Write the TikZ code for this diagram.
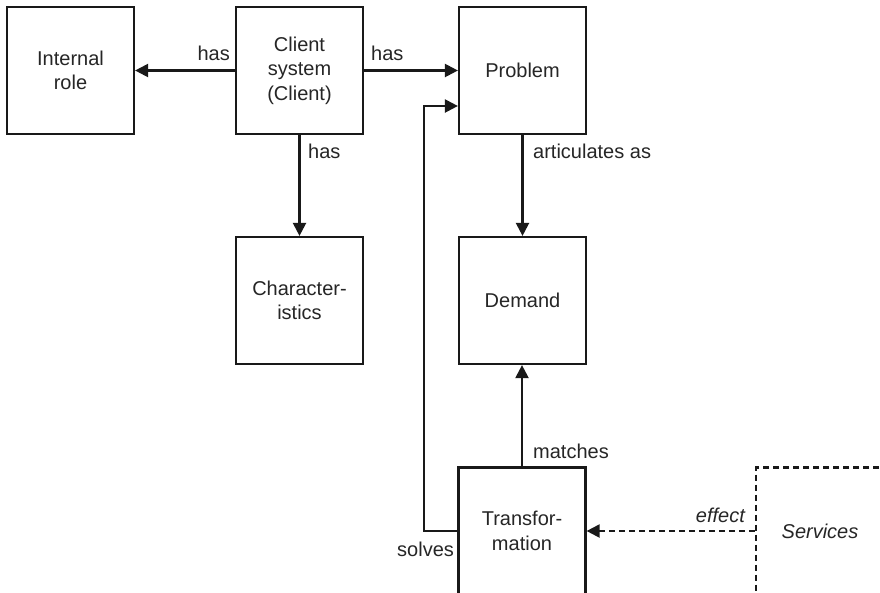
\documentclass[tikz,border=0pt]{standalone}
\usepackage{fontspec}
\setmainfont{Liberation Sans}
\usetikzlibrary{arrows.meta}
\begin{document}
\begin{tikzpicture}[x=1pt,y=-1pt,
  box/.style={draw=black!90, line width=2.2pt, minimum width=127pt, minimum height=127pt,
    inner sep=0pt, align=center, text=black!85, font=\fontsize{20}{24.5}\selectfont},
  lbl/.style={inner sep=0pt, text=black!85, font=\fontsize{20}{24.5}\selectfont},
  arr/.style={draw=black!90, line width=2.2pt, -{Triangle[length=13pt,width=13pt]}},
  dashline/.style={dash pattern=on 6pt off 4pt}]
  \useasboundingbox (0,0) rectangle (880,592);
  \clip (0,0) rectangle (880,592);
  \fill[white] (0,0) rectangle (880,592);

  % concept boxes
  \node[box] (role)    at (70.5,70.5)   {Internal\\role};
  \node[box] (client)  at (299.5,70.5)  {Client\\system\\(Client)};
  \node[box] (problem) at (522.5,70.5)  {Problem};
  \node[box] (char)    at (299.5,300.5) {Character-\\istics};
  \node[box] (demand)  at (522.5,300.5) {Demand};
  \node[box] (trans)   at (522,531)     {Transfor-\\mation};
  \node[box, dashline, minimum width=128pt] (serv) at (820,531) {\itshape Services};

  % relations
  \draw[arr] (client.west) -- (role.east);
  \draw[arr] (client.east) -- (problem.west);
  \draw[arr] (client.south) -- (char.north);
  \draw[arr] (problem.south) -- (demand.north);
  \draw[arr] (trans.north) -- (trans.north |- demand.south);
  \coordinate (bend) at (424,106);
  \draw[arr] (trans.west) -| (bend) -- (bend -| problem.west);
  \draw[arr, dashline] (serv.west) -- (trans.east);

  % relation labels
  \node[lbl, anchor=east] (l1) at (230,53) {has};
  \node[lbl, anchor=west] (l2) at (371,53) {has};
  \node[lbl, anchor=west] (l3) at (308,151) {has};
  \node[lbl, anchor=west] (l4) at (533,151) {articulates as};
  \node[lbl, anchor=west] (l5) at (533,451) {matches};
  \node[lbl, anchor=west] (l6) at (397,549) {solves};
  \node[lbl, anchor=east, font=\fontsize{20}{24.5}\selectfont\itshape] (l7) at (745,515) {effect};
\end{tikzpicture}
\end{document}
